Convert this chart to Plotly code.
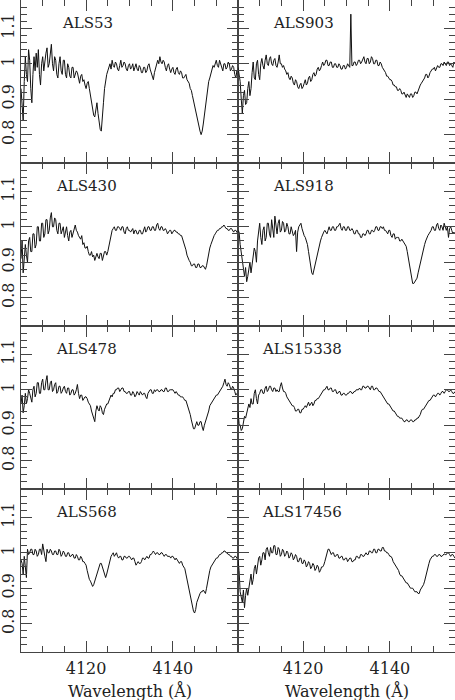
import plotly.graph_objects as go
from plotly.subplots import make_subplots

# Wavelength grid (Angstrom), 0.25 A sampling, 4105-4155
WAVELENGTH = [4105.0 + 0.25 * k for k in range(201)]

STAR_NAMES = ["ALS53", "ALS903", "ALS430", "ALS918",
              "ALS478", "ALS15338", "ALS568", "ALS17456"]

FLUX_ALS53 = [
    0.93, 0.88, 0.84, 0.95, 1.02, 0.97, 0.95, 1.04, 1.01, 0.93,
    0.89, 0.97, 1.02, 0.98, 1.03, 0.99, 1.04, 0.97, 0.94, 1.00,
    1.02, 0.98, 1.01, 1.03, 1.045, 0.99, 1.00, 1.03, 1.055, 1.00,
    0.98, 1.02, 1.01, 0.97, 0.96, 1.00, 1.02, 0.98, 0.97, 1.01,
    1.01, 0.97, 0.96, 1.00, 0.99, 0.965, 0.96, 0.99, 0.99, 0.96,
    0.97, 0.98, 0.975, 0.955, 0.945, 0.965, 0.97, 0.95, 0.955, 0.94,
    0.93, 0.945, 0.95, 0.93, 0.91, 0.89, 0.87, 0.855, 0.85, 0.87,
    0.89, 0.86, 0.83, 0.815, 0.81, 0.84, 0.89, 0.93, 0.96, 0.97,
    0.98, 0.99, 1.00, 0.985, 1.01, 0.995, 0.99, 1.005, 1.00, 0.985,
    0.98, 0.995, 1.01, 0.99, 0.995, 1.005, 1.00, 0.985, 0.98, 0.995,
    1.00, 0.985, 0.99, 1.0, 0.98, 0.99, 1.0, 0.985, 0.98, 0.995,
    0.99, 0.975, 0.975, 0.99, 0.99, 0.975, 0.98, 0.995, 1.0, 0.985,
    0.975, 0.96, 0.955, 0.975, 0.99, 1.005, 1.01, 1.0, 1.02, 1.005,
    1.0, 1.01, 1.005, 0.99, 0.98, 0.995, 1.0, 0.985, 0.975, 0.985,
    0.99, 0.975, 0.97, 0.985, 0.99, 0.975, 0.97, 0.98, 0.975, 0.96,
    0.96, 0.965, 0.97, 0.955, 0.95, 0.945, 0.93, 0.925, 0.91, 0.895,
    0.88, 0.87, 0.86, 0.845, 0.83, 0.81, 0.80, 0.81, 0.83, 0.855,
    0.88, 0.905, 0.93, 0.95, 0.96, 0.975, 0.98, 0.995, 0.99, 1.005,
    1.01, 0.995, 0.99, 1.01, 1.0, 0.985, 0.98, 1.0, 1.0, 0.985,
    0.99, 1.005, 1.0, 0.98, 0.985, 0.995, 0.99, 0.97, 0.96, 0.98,
    0.97]

FLUX_ALS903 = [
    0.99, 0.975, 0.95, 0.90, 0.86, 0.91, 0.925, 0.885, 0.89, 0.93,
    0.95, 0.91, 0.93, 0.975, 1.005, 0.96, 0.955, 1.0, 1.01, 0.97,
    0.955, 1.0, 1.015, 0.995, 0.985, 1.01, 1.025, 1.0, 0.995, 1.015,
    1.02, 1.0, 0.995, 1.01, 1.015, 0.995, 0.99, 1.005, 1.025, 1.0,
    1.0, 0.99, 0.995, 0.985, 0.98, 0.97, 0.975, 0.96, 0.955, 0.965,
    0.96, 0.945, 0.94, 0.955, 0.95, 0.935, 0.93, 0.94, 0.945, 0.93,
    0.935, 0.945, 0.955, 0.94, 0.945, 0.96, 0.965, 0.95, 0.955, 0.97,
    0.975, 0.965, 0.97, 0.985, 0.99, 0.98, 0.985, 0.995, 1.005, 0.995,
    1.0, 1.01, 1.01, 0.995, 0.995, 1.005, 1.005, 0.99, 0.99, 1.0,
    1.0, 0.99, 0.99, 1.0, 0.995, 0.985, 0.985, 0.995, 0.995, 0.985,
    0.99, 1.0, 0.995, 0.99, 1.14, 0.995, 0.995, 1.005, 1.005, 0.995,
    1.0, 1.01, 1.01, 1.0, 1.005, 1.015, 1.02, 1.005, 1.0, 1.015,
    1.015, 1.0, 1.005, 1.02, 1.015, 1.0, 1.0, 1.01, 1.01, 0.995,
    0.995, 1.005, 1.0, 0.99, 0.985, 0.98, 0.975, 0.965, 0.965, 0.96,
    0.955, 0.955, 0.95, 0.94, 0.94, 0.935, 0.935, 0.925, 0.925, 0.93,
    0.925, 0.915, 0.915, 0.92, 0.91, 0.905, 0.915, 0.91, 0.905, 0.915,
    0.915, 0.905, 0.91, 0.92, 0.92, 0.915, 0.925, 0.935, 0.94, 0.945,
    0.95, 0.955, 0.96, 0.97, 0.97, 0.96, 0.965, 0.975, 0.98, 0.985,
    0.985, 0.99, 0.98, 0.99, 0.995, 0.99, 0.99, 1.0, 1.0, 0.995,
    1.005, 1.0, 0.995, 1.005, 1.005, 0.995, 1.0, 0.995, 0.99, 1.005,
    1.0]

FLUX_ALS430 = [
    0.91, 0.96, 0.87, 0.90, 0.95, 0.92, 0.90, 0.96, 0.97, 0.93,
    0.93, 0.98, 0.98, 0.94, 0.95, 1.0, 1.00, 0.96, 0.96, 1.01,
    1.01, 0.97, 0.98, 1.02, 1.02, 0.98, 0.99, 1.025, 1.04, 1.0,
    1.00, 1.025, 1.02, 0.99, 0.98, 1.01, 1.01, 0.98, 0.99, 1.0,
    0.97, 0.99, 1.00, 0.975, 0.96, 0.985, 0.99, 0.97, 0.98, 0.995,
    1.005, 0.99, 0.985, 0.975, 0.97, 0.965, 0.975, 0.95, 0.955, 0.94,
    0.94, 0.945, 0.93, 0.92, 0.92, 0.93, 0.915, 0.92, 0.905, 0.92,
    0.925, 0.915, 0.91, 0.925, 0.925, 0.905, 0.915, 0.93, 0.93, 0.92,
    0.93, 0.945, 0.96, 0.985, 0.99, 0.995, 1.0, 0.99, 0.99, 1.0,
    1.0, 0.995, 0.99, 1.0, 1.0, 0.985, 0.98, 0.995, 1.0, 0.99,
    0.99, 0.985, 0.99, 0.995, 0.98, 0.99, 0.99, 0.98, 0.98, 0.99,
    0.99, 0.98, 0.98, 0.99, 1.00, 0.985, 0.99, 1.0, 1.0, 0.99,
    0.99, 1.0, 1.0, 0.99, 0.99, 1.005, 1.01, 0.995, 0.99, 1.0,
    1.00, 0.99, 0.99, 0.995, 0.99, 0.98, 0.985, 0.99, 0.99, 0.98,
    0.985, 0.99, 0.99, 0.985, 0.985, 0.98, 0.98, 0.975, 0.975, 0.965,
    0.96, 0.95, 0.935, 0.92, 0.91, 0.905, 0.90, 0.89, 0.89, 0.895,
    0.895, 0.885, 0.885, 0.895, 0.895, 0.885, 0.885, 0.89, 0.89, 0.885,
    0.88, 0.89, 0.91, 0.925, 0.94, 0.95, 0.96, 0.965, 0.975, 0.98,
    0.985, 0.99, 0.99, 0.995, 0.995, 1.0, 1.0, 1.005, 1.0, 0.995,
    0.995, 0.99, 0.99, 0.995, 0.995, 0.99, 0.985, 0.99, 0.99, 0.985,
    0.98]

FLUX_ALS918 = [
    0.99, 0.985, 0.95, 0.93, 0.90, 0.88, 0.86, 0.885, 0.845, 0.86,
    0.88, 0.90, 0.87, 0.89, 0.91, 0.94, 0.93, 0.90, 0.96, 0.99,
    1.01, 0.97, 0.95, 0.99, 1.00, 0.96, 0.97, 1.01, 1.01, 0.98,
    0.97, 1.02, 1.00, 0.97, 1.03, 1.00, 0.98, 1.01, 1.02, 0.985,
    0.99, 1.015, 1.01, 0.985, 0.99, 1.01, 1.00, 0.98, 0.98, 1.0,
    0.99, 0.975, 0.98, 0.99, 0.93, 0.985, 1.00, 1.005, 1.01, 0.995,
    0.98, 0.975, 0.97, 0.96, 0.95, 0.93, 0.91, 0.89, 0.87, 0.865,
    0.88, 0.895, 0.91, 0.925, 0.94, 0.95, 0.96, 0.97, 0.98, 0.985,
    0.99, 0.985, 0.98, 0.99, 1.0, 0.99, 0.99, 1.0, 1.0, 0.99,
    0.99, 1.0, 1.00, 1.005, 1.01, 0.995, 0.99, 1.0, 1.0, 0.99,
    0.99, 1.0, 1.0, 0.99, 0.99, 0.995, 0.99, 0.98, 0.98, 0.99,
    0.99, 0.98, 0.98, 0.97, 0.97, 0.98, 0.98, 0.975, 0.98, 0.99,
    0.99, 0.98, 0.98, 0.99, 0.99, 0.985, 0.99, 1.0, 1.0, 0.99,
    0.99, 1.0, 1.0, 0.995, 1.0, 0.99, 0.99, 0.985, 0.98, 0.99,
    0.99, 0.975, 0.97, 0.98, 0.98, 0.965, 0.97, 0.97, 0.97, 0.96,
    0.96, 0.965, 0.96, 0.955, 0.95, 0.945, 0.93, 0.91, 0.89, 0.87,
    0.85, 0.84, 0.84, 0.845, 0.85, 0.855, 0.87, 0.885, 0.90, 0.91,
    0.92, 0.935, 0.95, 0.96, 0.97, 0.975, 0.98, 0.985, 0.99, 1.0,
    1.0, 0.99, 0.99, 1.005, 1.01, 0.995, 0.99, 1.005, 1.0, 0.99,
    1.01, 1.0, 0.99, 1.0, 0.97, 0.995, 1.0, 0.99, 0.98, 0.985,
    0.98]

FLUX_ALS478 = [
    0.96, 0.985, 0.935, 0.955, 0.99, 0.96, 0.975, 1.0, 0.99, 0.975,
    0.965, 1.0, 1.01, 0.98, 0.99, 1.02, 1.02, 0.99, 0.99, 1.02,
    1.03, 1.0, 1.00, 1.025, 1.04, 1.0, 1.00, 1.02, 1.025, 0.995,
    1.00, 1.015, 1.02, 0.99, 0.995, 1.01, 1.01, 0.99, 0.995, 1.005,
    1.01, 0.995, 0.99, 1.005, 1.005, 0.985, 0.99, 1.0, 1.00, 0.985,
    0.99, 1.0, 1.015, 0.99, 0.975, 0.985, 0.985, 0.97, 0.975, 0.98,
    0.98, 0.975, 0.965, 0.96, 0.955, 0.94, 0.93, 0.915, 0.91, 0.94,
    0.955, 0.945, 0.94, 0.955, 0.95, 0.935, 0.93, 0.945, 0.955, 0.96,
    0.96, 0.97, 0.975, 0.985, 0.98, 0.99, 0.99, 1.0, 1.0, 1.005,
    1.005, 0.995, 1.0, 1.005, 1.005, 0.995, 0.995, 0.99, 0.99, 0.995,
    0.995, 0.985, 0.985, 0.995, 0.99, 0.98, 0.985, 0.995, 0.99, 0.985,
    0.995, 0.99, 0.985, 0.99, 0.99, 0.98, 0.975, 0.99, 0.995, 1.0,
    1.00, 0.99, 0.99, 1.0, 0.995, 1.0, 1.0, 0.995, 0.995, 1.0,
    1.00, 0.995, 0.995, 1.005, 1.005, 0.995, 0.995, 1.0, 1.0, 1.0,
    1.00, 0.995, 0.99, 0.995, 0.99, 0.985, 0.985, 0.98, 0.98, 0.98,
    0.975, 0.97, 0.97, 0.96, 0.955, 0.94, 0.93, 0.915, 0.905, 0.89,
    0.89, 0.905, 0.91, 0.90, 0.90, 0.91, 0.91, 0.895, 0.885, 0.9,
    0.91, 0.915, 0.925, 0.94, 0.955, 0.96, 0.965, 0.97, 0.975, 0.98,
    0.985, 0.985, 0.99, 0.995, 1.0, 1.005, 1.01, 1.02, 1.03, 1.015,
    1.01, 1.02, 1.015, 1.005, 1.00, 1.01, 1.005, 0.995, 0.985, 0.99,
    0.99]

FLUX_ALS15338 = [
    0.94, 0.905, 0.90, 0.885, 0.89, 0.915, 0.925, 0.92, 0.935, 0.95,
    0.96, 0.95, 0.975, 0.96, 0.96, 0.99, 1.0, 0.975, 0.96, 0.985,
    0.99, 1.0, 1.0, 0.99, 0.99, 1.005, 1.01, 0.995, 1.0, 1.01,
    1.01, 1.0, 0.995, 1.005, 1.005, 0.995, 1.0, 0.995, 0.995, 1.01,
    1.02, 1.005, 0.995, 0.995, 0.99, 0.98, 0.975, 0.97, 0.965, 0.96,
    0.955, 0.955, 0.95, 0.94, 0.94, 0.945, 0.945, 0.935, 0.935, 0.945,
    0.945, 0.95, 0.955, 0.95, 0.96, 0.965, 0.955, 0.96, 0.965, 0.955,
    0.96, 0.97, 0.97, 0.975, 0.975, 0.98, 0.985, 0.99, 0.995, 1.0,
    1.0, 1.005, 1.01, 1.0, 1.0, 1.005, 1.005, 0.995, 0.995, 1.0,
    1.0, 0.99, 0.99, 0.995, 0.995, 0.985, 0.985, 0.99, 0.99, 0.985,
    0.985, 0.99, 0.99, 0.995, 0.995, 0.99, 0.99, 0.995, 0.995, 1.0,
    1.0, 1.0, 1.005, 1.0, 1.0, 1.01, 1.01, 1.005, 1.005, 1.01,
    1.01, 1.005, 1.0, 1.01, 1.01, 1.0, 1.0, 1.005, 1.005, 1.0,
    0.995, 0.995, 0.99, 0.985, 0.98, 0.975, 0.97, 0.965, 0.96, 0.96,
    0.955, 0.95, 0.945, 0.94, 0.94, 0.935, 0.93, 0.925, 0.925, 0.92,
    0.92, 0.92, 0.915, 0.91, 0.91, 0.915, 0.915, 0.91, 0.91, 0.915,
    0.915, 0.91, 0.91, 0.915, 0.915, 0.92, 0.92, 0.925, 0.93, 0.94,
    0.945, 0.945, 0.95, 0.955, 0.96, 0.965, 0.97, 0.97, 0.975, 0.98,
    0.985, 0.985, 0.98, 0.985, 0.99, 0.99, 0.985, 0.99, 0.995, 0.995,
    0.99, 0.995, 1.0, 1.0, 0.995, 0.995, 1.0, 0.995, 0.99, 0.99,
    0.995]

FLUX_ALS568 = [
    0.98, 0.97, 0.94, 0.99, 0.96, 0.93, 1.01, 0.995, 1.0, 1.01,
    1.01, 0.995, 0.995, 1.01, 1.005, 0.99, 0.995, 1.01, 1.01, 0.995,
    1.025, 1.0, 0.99, 0.975, 1.01, 1.0, 1.0, 1.01, 1.005, 0.995,
    0.995, 1.005, 1.005, 0.995, 0.995, 1.01, 1.005, 0.99, 0.995, 1.005,
    1.0, 0.99, 0.99, 1.0, 1.0, 0.99, 0.99, 0.995, 0.995, 0.985,
    0.985, 0.995, 0.99, 0.98, 0.98, 0.99, 0.985, 0.975, 0.975, 0.97,
    0.965, 0.95, 0.935, 0.925, 0.92, 0.91, 0.905, 0.91, 0.92, 0.93,
    0.945, 0.955, 0.965, 0.97, 0.97, 0.96, 0.95, 0.94, 0.93, 0.94,
    0.955, 0.97, 0.98, 0.99, 0.995, 1.0, 0.99, 0.995, 1.0, 0.99,
    0.985, 0.99, 0.99, 0.98, 0.98, 0.99, 0.99, 0.985, 0.985, 0.99,
    0.99, 0.985, 0.98, 0.985, 0.985, 0.975, 0.965, 0.97, 0.975, 0.97,
    0.97, 0.975, 0.985, 0.985, 0.98, 0.985, 0.99, 0.985, 0.985, 0.995,
    0.995, 1.0, 1.005, 1.0, 0.995, 1.0, 1.0, 0.995, 0.995, 1.0,
    1.0, 0.995, 0.99, 0.995, 0.995, 0.99, 0.99, 0.99, 0.985, 0.99,
    0.99, 0.985, 0.98, 0.985, 0.98, 0.975, 0.97, 0.975, 0.975, 0.965,
    0.96, 0.955, 0.94, 0.925, 0.91, 0.89, 0.87, 0.855, 0.84, 0.835,
    0.83, 0.84, 0.86, 0.87, 0.88, 0.885, 0.89, 0.89, 0.895, 0.89,
    0.885, 0.9, 0.92, 0.935, 0.95, 0.96, 0.965, 0.97, 0.975, 0.98,
    0.985, 0.985, 0.99, 0.995, 0.995, 1.0, 1.0, 1.005, 1.005, 1.0,
    1.0, 0.995, 0.995, 0.99, 0.99, 0.985, 0.985, 0.99, 0.99, 0.985,
    0.98]

FLUX_ALS17456 = [
    0.98, 0.95, 0.89, 0.87, 0.86, 0.895, 0.845, 0.88, 0.90, 0.88,
    0.905, 0.93, 0.94, 0.91, 0.925, 0.955, 0.965, 0.94, 0.97, 0.985,
    0.99, 0.965, 0.98, 1.0, 1.0, 0.98, 1.01, 1.015, 1.0, 0.99,
    1.015, 1.0, 1.0, 1.02, 1.02, 0.995, 0.995, 1.015, 1.01, 0.99,
    0.995, 1.01, 1.005, 0.99, 0.995, 1.005, 1.0, 0.985, 0.99, 1.0,
    0.995, 0.98, 0.985, 0.995, 0.99, 0.975, 0.975, 0.985, 0.985, 0.97,
    0.97, 0.98, 0.975, 0.96, 0.965, 0.975, 0.97, 0.955, 0.96, 0.97,
    0.965, 0.95, 0.955, 0.965, 0.96, 0.945, 0.95, 0.96, 0.96, 0.965,
    0.975, 0.99, 1.0, 1.01, 1.01, 1.0, 0.995, 1.0, 1.0, 0.99,
    0.99, 0.995, 0.995, 0.985, 0.985, 0.99, 0.99, 0.98, 0.98, 0.985,
    0.985, 0.975, 0.98, 0.985, 0.985, 0.975, 0.975, 0.98, 0.98, 0.99,
    0.99, 0.985, 0.985, 0.995, 0.995, 0.99, 0.99, 0.995, 1.0, 0.995,
    0.995, 1.005, 1.005, 1.0, 1.0, 1.01, 1.01, 1.0, 1.0, 1.01,
    1.01, 1.005, 1.005, 1.015, 1.015, 1.005, 1.005, 1.0, 1.0, 0.995,
    0.99, 0.99, 0.985, 0.975, 0.97, 0.965, 0.96, 0.955, 0.95, 0.94,
    0.935, 0.935, 0.93, 0.925, 0.92, 0.915, 0.915, 0.91, 0.905, 0.9,
    0.90, 0.9, 0.895, 0.89, 0.89, 0.89, 0.885, 0.885, 0.895, 0.9,
    0.905, 0.91, 0.92, 0.935, 0.95, 0.96, 0.97, 0.98, 0.985, 0.99,
    0.99, 0.995, 0.995, 0.99, 0.99, 0.995, 0.995, 0.99, 0.99, 0.995,
    0.997, 0.995, 0.995, 1.0, 1.0, 0.995, 0.99, 0.995, 0.995, 0.99,
    0.985]

FLUXES = [FLUX_ALS53, FLUX_ALS903, FLUX_ALS430, FLUX_ALS918,
          FLUX_ALS478, FLUX_ALS15338, FLUX_ALS568, FLUX_ALS17456]

# label anchor positions (data coords, left edge of text)
LABEL_X = [4113.9, 4112.6, 4112.6, 4112.6, 4112.6, 4110.1, 4112.6, 4110.1]
LABEL_Y = [1.115] * 8

Y_TICKVALS = [0.8, 0.9, 1.0, 1.1]
Y_TICKTEXT = ["0.8", "0.9", "1", "1.1"]

AXIS_COLOR = "#444444"
FONT = "DejaVu Serif"

fig = make_subplots(rows=4, cols=2, horizontal_spacing=0, vertical_spacing=0)

for k, (name, flux) in enumerate(zip(STAR_NAMES, FLUXES)):
    r, c = k // 2 + 1, k % 2 + 1
    fig.add_trace(go.Scatter(x=WAVELENGTH, y=flux, mode="lines",
                             line=dict(color="#111111", width=1),
                             showlegend=False, hoverinfo="skip"),
                  row=r, col=c)
    fig.update_xaxes(range=[4105, 4155], tick0=4100, dtick=20,
                     ticks="inside", ticklen=11, tickwidth=1, tickcolor=AXIS_COLOR,
                     showline=True, linecolor=AXIS_COLOR, linewidth=1,
                     mirror="ticks", showgrid=False, zeroline=False,
                     minor=dict(tick0=4100, dtick=5, ticks="inside", ticklen=6,
                                tickwidth=1, tickcolor=AXIS_COLOR, showgrid=False),
                     showticklabels=(r == 4), ticklabelstandoff=2,
                     tickfont=dict(family=FONT, size=16, color="#222222"),
                     automargin=False, row=r, col=c)
    fig.update_yaxes(range=[0.72, 1.18], tickvals=Y_TICKVALS, ticktext=Y_TICKTEXT,
                     ticks="inside", ticklen=11, tickwidth=1, tickcolor=AXIS_COLOR,
                     showline=True, linecolor=AXIS_COLOR, linewidth=1,
                     mirror="ticks", showgrid=False, zeroline=False,
                     minor=dict(tick0=0, dtick=0.02, ticks="inside", ticklen=6,
                                tickwidth=1, tickcolor=AXIS_COLOR, showgrid=False),
                     showticklabels=(c == 1), tickangle=-90, ticklabelstandoff=0,
                     tickfont=dict(family=FONT, size=16, color="#222222"),
                     automargin=False, row=r, col=c)
    xr = "x" if k == 0 else f"x{k+1}"
    yr = "y" if k == 0 else f"y{k+1}"
    fig.add_annotation(x=LABEL_X[k], y=LABEL_Y[k], xref=xr, yref=yr,
                       text=name, showarrow=False, xanchor="left", yanchor="middle",
                       font=dict(family=FONT, size=15, color="#222222"))

for xc in [0.25, 0.75]:
    fig.add_annotation(x=xc, y=0, xref="paper", yref="paper", yshift=-39,
                       text="Wavelength (Å)", showarrow=False,
                       xanchor="center", yanchor="middle",
                       font=dict(family=FONT, size=16, color="#222222"))

fig.update_layout(width=455, height=700,
                  margin=dict(l=21, r=0, t=0, b=48),
                  paper_bgcolor="white", plot_bgcolor="white")

fig.write_html("out.html", config={"displayModeBar": False},
               post_script="document.body.style.margin='0';document.body.style.padding='0';")
